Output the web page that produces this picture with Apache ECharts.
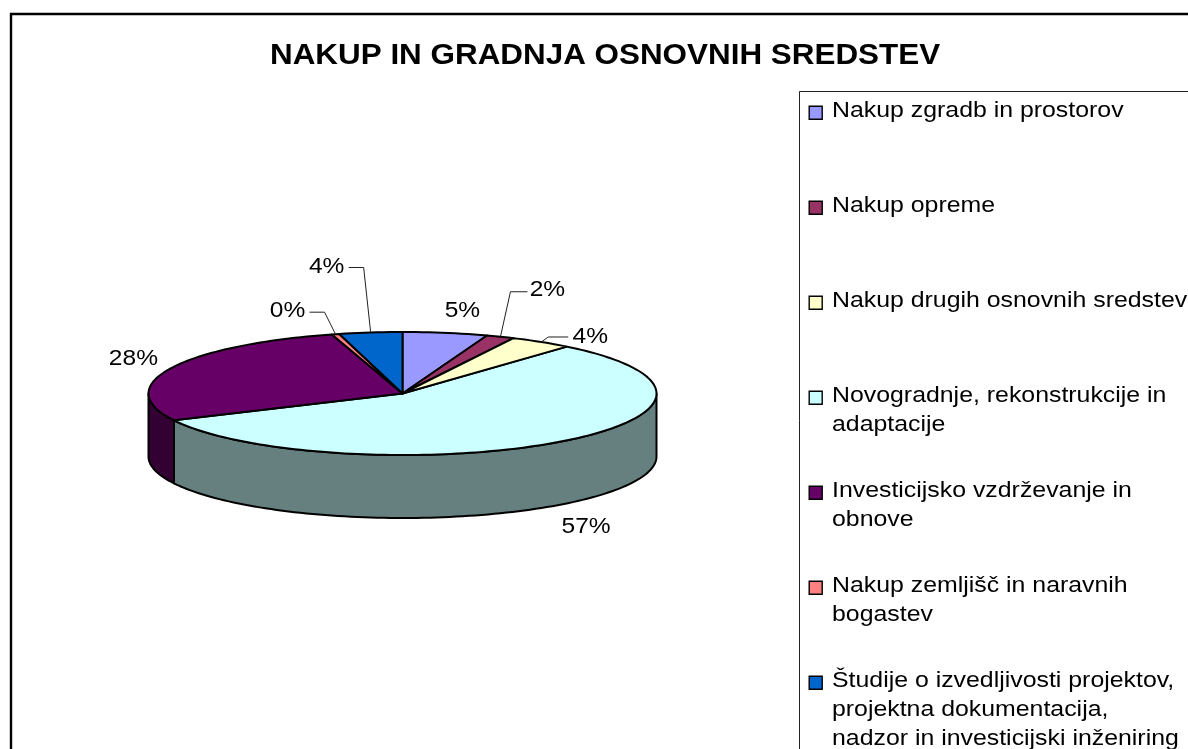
<!DOCTYPE html>
<html><head><meta charset="utf-8">
<style>html,body{margin:0;padding:0;background:#fff;overflow:hidden}#c{width:1188px;height:749px}</style>
<script src="https://cdn.jsdelivr.net/npm/echarts@6/dist/echarts.min.js"></script>
</head><body><div id="c"></div>
<script>
// ---- data ----
const titleText = 'NAKUP IN GRADNJA OSNOVNIH SREDSTEV';
const categories = [
  ['Nakup zgradb in prostorov'],
  ['Nakup opreme'],
  ['Nakup drugih osnovnih sredstev'],
  ['Novogradnje, rekonstrukcije in', 'adaptacije'],
  ['Investicijsko vzdrževanje in', 'obnove'],
  ['Nakup zemljišč in naravnih', 'bogastev'],
  ['Študije o izvedljivosti projektov,', 'projektna dokumentacija,', 'nadzor in investicijski inženiring']
];
const values = [5.4, 1.8, 4.0, 56.6, 27.7, 0.49, 4.0];
const colors = ['#9999FF', '#993366', '#FFFFCC', '#CCFFFF', '#660066', '#FF8080', '#0066CC'];
const sideColors = ['#4D4D80', '#4D1A33', '#808066', '#668080', '#330033', '#804040', '#003366'];

// ---- layout ----
const pie = {cx: 402.5, cy: 393.5, rx: 254, ry: 61.5, depth: 63};
const labelOffset = [[17,-22],[47,-47],[49,-5],[28,85],[-37,-10],[-48,-23],[-44,-66]];
const leader = [null,[[10,-45],[27,-45]],[[7,-5],[27,-5]],null,null,[[-11,-22],[-26,-22]],[[-7,-65],[-22,-65]]];
const legendIconTop = 105.5, legendTextTop = 111, legendStep = 95, legendLine = 29, legendX = 832;
const labelFont = 22, legendFont = 22, titleFont = 29;
const labelStretch = 1.115, legendStretch = 1.13, titleStretch = 1.083;
const fontFamily = '"Liberation Sans", Arial, sans-serif';

const total = values.reduce((a, b) => a + b, 0);
const pt = (deg, dy) => {
  const r = deg * Math.PI / 180;
  return [pie.cx + pie.rx * Math.sin(r), pie.cy - pie.ry * Math.cos(r) + (dy || 0)];
};
function arc(a, b, dy) {
  const n = Math.max(2, Math.ceil(Math.abs(b - a) / 1.5)), out = [];
  for (let i = 0; i <= n; i++) out.push(pt(a + (b - a) * i / n, dy));
  return out;
}
function render(idx) {
  return function (params, api) {
    const before = values.slice(0, idx).reduce((a, b) => a + b, 0);
    const start = before / total * 360;
    const end = start + api.value(0) / total * 360;
    const children = [];
    const stroke = {stroke: '#000', lineWidth: 2, lineJoin: 'round'};
    // side wall: only the front half of the rim shows
    const a = Math.max(start, 90), b = Math.min(end, 270);
    if (b > a) {
      const front = arc(a, b, 0), back = arc(b, a, pie.depth);
      children.push({type: 'polygon', z2: 1, shape: {points: front.concat(back)},
        style: Object.assign({fill: sideColors[idx]}, stroke)});
    }
    children.push({type: 'polygon', z2: 2, shape: {points: [[pie.cx, pie.cy]].concat(arc(start, end, 0))},
      style: Object.assign({fill: colors[idx]}, stroke)});
    const anchor = pt((start + end) / 2);
    const off = labelOffset[idx];
    children.push({type: 'text', z2: 5, x: anchor[0] + off[0], y: anchor[1] + off[1], scaleX: labelStretch, style: {
      text: Math.round(api.value(0)) + '%', x: 0, y: 0,
      align: 'center', verticalAlign: 'middle', fill: '#000', font: labelFont + 'px ' + fontFamily}});
    if (leader[idx]) {
      const pts = [anchor].concat(leader[idx].map(p => [anchor[0] + p[0], anchor[1] + p[1]]));
      children.push({type: 'polyline', z2: 4, shape: {points: pts},
        style: {stroke: '#222', lineWidth: 1, fill: null}});
    }
    return {type: 'group', children};
  };
}

const series = categories.map((c, i) => ({
  type: 'custom', name: c.join(' '), coordinateSystem: 'none', silent: true,
  animation: false, z: i === 3 || i === 4 ? 2 : 3,
  itemStyle: {color: colors[i]},
  renderItem: render(i), data: [[values[i]]]
}));

// legend swatches come from the legend component; its wide, stretched text is drawn below
const legends = categories.map((c, i) => ({
  left: 808.5, top: legendIconTop + legendStep * i, padding: 0, orient: 'vertical',
  itemWidth: 13, itemHeight: 13, selectedMode: false,
  data: [{name: c.join(' '), icon: 'rect', itemStyle: {color: colors[i], borderColor: '#000', borderWidth: 1.4}}],
  formatter: () => '',
  textStyle: {fontFamily, fontSize: 1, color: '#000'}
}));

const graphic = [
  {type: 'rect', silent: true, z: -1, shape: {x: 11, y: 14, width: 1400, height: 1000},
    style: {fill: '#fff', stroke: '#000', lineWidth: 2.4}},
  {type: 'rect', silent: true, z: 0, shape: {x: 799.5, y: 91.5, width: 600, height: 900},
    style: {fill: '#fff', stroke: '#222', lineWidth: 1}},
  {type: 'text', silent: true, z: 5, x: 270, y: 56, scaleX: titleStretch, style: {text: titleText, x: 0, y: 0,
    verticalAlign: 'middle', fill: '#000', font: 'bold ' + titleFont + 'px ' + fontFamily}}
];
categories.forEach((c, i) => c.forEach((line, j) => graphic.push({
  type: 'text', silent: true, z: 5, x: legendX, y: legendTextTop + legendStep * i + legendLine * j,
  scaleX: legendStretch, style: {text: line, x: 0, y: 0,
    verticalAlign: 'middle', fill: '#000', font: legendFont + 'px ' + fontFamily}
})));

const chart = echarts.init(document.getElementById('c'), null, {renderer: 'canvas'});
chart.setOption({
  backgroundColor: '#fff', animation: false,
  legend: legends, graphic, series
});
</script></body></html>
